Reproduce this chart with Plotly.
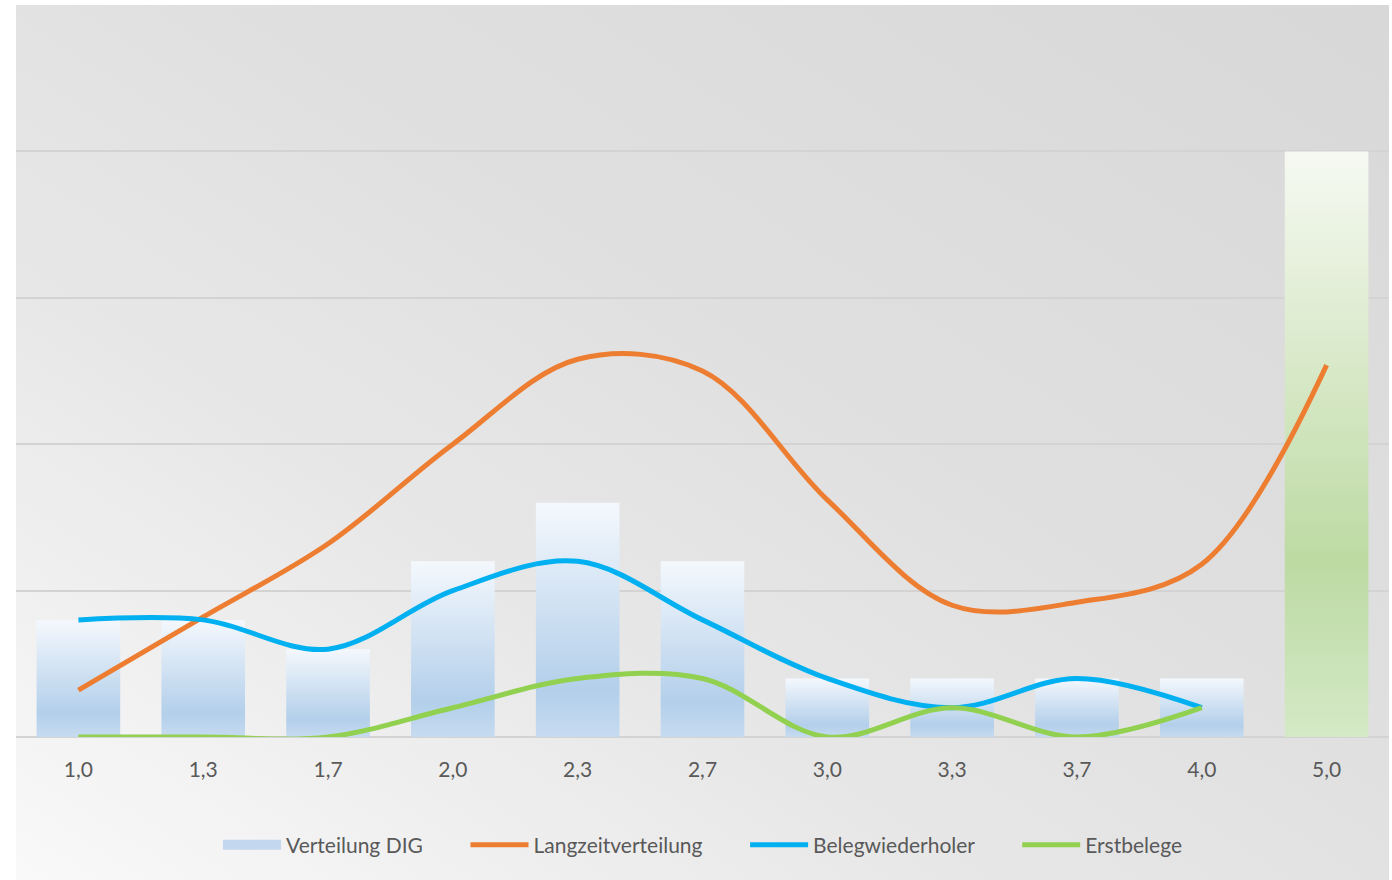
import base64
import plotly.graph_objects as go

# ---------------- data ----------------
categories = ["1,0", "1,3", "1,7", "2,0", "2,3", "2,7", "3,0", "3,3", "3,7", "4,0", "5,0"]
verteilung_dig = [4, 4, 3, 6, 8, 6, 2, 2, 2, 2, 20]
langzeitverteilung = [1.6, 4.1, 6.6, 10.0, 12.9, 12.5, 8.1, 4.5, 4.6, 5.9, 12.7]
belegwiederholer = [4, 4, 3, 5, 6, 4, 2, 1, 2, 1, None]
erstbelege = [0, 0, 0, 1, 2, 2, 0, 1, 0, 1, None]
highlight_category = "5,0"

# ---------------- styles ----------------
FONT = "Lato, 'Open Sans', sans-serif"
TEXT = "#595959"
FS = 21
BAR_WIDTH = 0.67
PAD = "\u00a0" * 7  # spacing between legend entries
blue_scale = [[0, "#c6dbf0"], [0.2, "#b3cfea"], [1, "#f4f8fd"]]
green_scale = [[0, "#d4e9c6"], [0.3, "#bddaa3"], [1, "#f6f9f2"]]

W, H = 1392, 880
ML, MR, MT, MB = 16, 3, 5, 0
plot_h = H - MT - MB
y_bottom_px = 737
y_dom0 = (H - y_bottom_px) / plot_h

bg_svg = (
    '<svg xmlns="http://www.w3.org/2000/svg" width="100" height="100" '
    'viewBox="0 0 100 100" preserveAspectRatio="none">'
    '<defs><linearGradient id="g" x1="0" y1="1" x2="1" y2="0">'
    '<stop offset="0" stop-color="#f9f9f9"/>'
    '<stop offset="0.35" stop-color="#e7e7e7"/>'
    '<stop offset="0.6" stop-color="#dfdfdf"/>'
    '<stop offset="1" stop-color="#d8d8d8"/>'
    '</linearGradient></defs>'
    '<rect width="100" height="100" fill="url(#g)"/></svg>'
)
bg_uri = "data:image/svg+xml;base64," + base64.b64encode(bg_svg.encode()).decode()

fig = go.Figure()

# bars (gradient filled rectangles on the numeric category scale)
for i, (cat, v) in enumerate(zip(categories, verteilung_dig)):
    is_hl = cat == highlight_category
    x0, x1 = i - BAR_WIDTH / 2, i + BAR_WIDTH / 2
    fig.add_trace(go.Scatter(
        x=[x0, x1, x1, x0, x0], y=[0, 0, v, v, 0],
        mode="lines", fill="toself",
        line=dict(width=0, color="rgba(0,0,0,0)"),
        fillgradient=dict(type="vertical", colorscale=green_scale if is_hl else blue_scale),
        name="Verteilung DIG", legendgroup="dig", showlegend=False,
        hoverinfo="skip",
    ))

# legend entry for the bar series (wide light-blue swatch)
fig.add_trace(go.Scatter(
    x=[None], y=[None], mode="lines", name="Verteilung DIG" + PAD,
    legendgroup="dig", line=dict(color="#c3d8ef", width=12),
))

xs = list(range(len(categories)))
series = [
    ("Langzeitverteilung", langzeitverteilung, "#ed7d31"),
    ("Belegwiederholer", belegwiederholer, "#00b0f0"),
    ("Erstbelege", erstbelege, "#92d050"),
]
for k, (name, vals, color) in enumerate(series):
    fig.add_trace(go.Scatter(
        x=xs, y=vals, mode="lines", name=name + (PAD if k < len(series) - 1 else ""),
        line=dict(color=color, width=5, shape="spline", smoothing=1.0),
    ))

fig.update_layout(
    width=W, height=H,
    margin=dict(l=ML, r=MR, t=MT, b=MB, pad=0),
    paper_bgcolor="white",
    plot_bgcolor="rgba(0,0,0,0)",
    font=dict(family=FONT, size=FS, color=TEXT),
    images=[dict(source=bg_uri, xref="paper", yref="paper", x=0, y=1,
                 sizex=1, sizey=1, xanchor="left", yanchor="top",
                 sizing="stretch", layer="below")],
    xaxis=dict(
        domain=[0, 1], range=[-0.5, len(categories) - 0.5],
        tickmode="array", tickvals=xs, ticktext=categories,
        showgrid=False, zeroline=False, showline=False,
        ticks="outside", ticklen=14, tickcolor="rgba(0,0,0,0)",
        tickfont=dict(family=FONT, size=FS, color=TEXT),
    ),
    yaxis=dict(
        domain=[y_dom0, 1], range=[0, 25], dtick=5,
        showgrid=True, gridcolor="#d3d3d3", gridwidth=1.5,
        zeroline=True, zerolinecolor="#d3d3d3", zerolinewidth=1.5,
        showticklabels=False, showline=False,
    ),
    legend=dict(
        orientation="h", x=0.5, xanchor="center", y=(H - 845) / plot_h, yanchor="middle",
        bgcolor="rgba(0,0,0,0)", font=dict(family=FONT, size=FS, color=TEXT),
        itemwidth=58,
    ),
    showlegend=True,
)

fig.write_html("out.html", config={"displayModeBar": False},
               post_script="document.body.style.margin='0px';")
